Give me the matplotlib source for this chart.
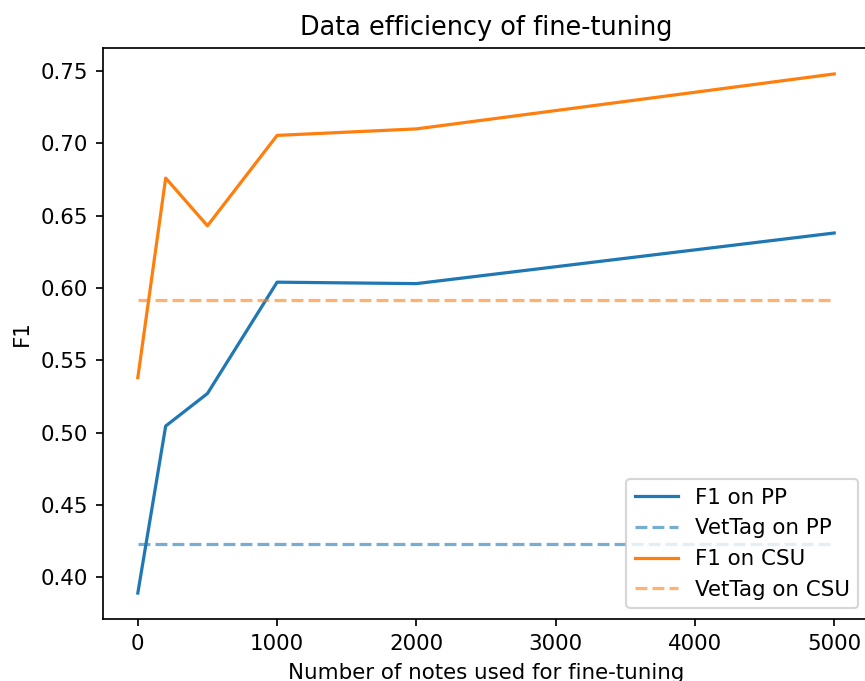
import matplotlib.pyplot as plt

# === Data ===
n_notes = [0, 200, 500, 1000, 2000, 5000]
f1_pp = [0.389, 0.5045, 0.527, 0.604, 0.603, 0.638]
f1_csu = [0.538, 0.676, 0.643, 0.7055, 0.710, 0.748]
vettag_pp = 0.423
vettag_csu = 0.592

DPI = 154

# === Figure (right and bottom edges are cropped like the original) ===
fig = plt.figure(figsize=(865 / DPI, 681 / DPI), dpi=DPI)
ax = fig.add_axes([103 / 865, 1 - 619 / 681, 766 / 865, 571 / 681])

ax.plot(n_notes, f1_pp, color="C0", label="F1 on PP")
ax.plot([n_notes[0], n_notes[-1]], [vettag_pp, vettag_pp], "--", color="C0",
        alpha=0.6, label="VetTag on PP")
ax.plot(n_notes, f1_csu, color="C1", label="F1 on CSU")
ax.plot([n_notes[0], n_notes[-1]], [vettag_csu, vettag_csu], "--", color="C1",
        alpha=0.6, label="VetTag on CSU")

ax.set_title("Data efficiency of fine-tuning")
ax.set_xlabel("Number of notes used for fine-tuning")
ax.set_ylabel("F1")
ax.legend(loc="lower right")

fig.savefig("out.png", dpi=DPI)
